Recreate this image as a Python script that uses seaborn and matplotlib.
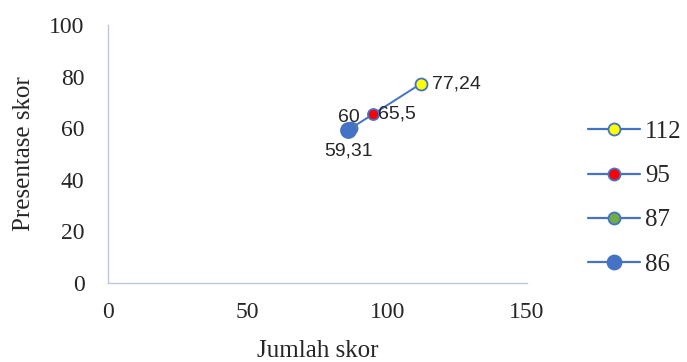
import pandas as pd
import seaborn as sns
import matplotlib.pyplot as plt
from matplotlib.lines import Line2D

# Data
jumlah_skor = [112, 95, 87, 86]
presentase_skor = [77.24, 65.5, 60, 59.31]
point_labels = ["77,24", "65,5", "60", "59,31"]
series_names = ["112", "95", "87", "86"]
face_colors = ["#FFFF00", "#FF0000", "#70AD47", "#4472C4"]

line_blue = "#4472C4"
serif = "Liberation Serif"
px = 0.72  # points per pixel at dpi 100

df = pd.DataFrame({"x": jumlah_skor, "y": presentase_skor, "name": series_names})

sns.set_style("white")
fig = plt.figure(figsize=(6.87, 3.62), dpi=100)
ax = fig.add_axes([108 / 687, 79 / 362, 419 / 687, 258 / 362])

sns.lineplot(data=df, x="x", y="y", sort=False, color=line_blue, linewidth=1.4, ax=ax)
sizes = [(12 * px) ** 2, (11 * px) ** 2, (12 * px) ** 2, (15 * px) ** 2]
for (_, row), fc, s in zip(df.iterrows(), face_colors, sizes):
    ax.scatter(row["x"], row["y"], s=s, color=fc, edgecolor=line_blue,
               linewidth=1.3, zorder=3)

# data labels, offsets in pixels
offsets = [(11, 0, "left", "center"), (5, 0, "left", "center"),
           (9, 11, "right", "center"), (0, -13, "center", "top")]
for x, y, lab, (dx, dy, ha, va) in zip(jumlah_skor, presentase_skor, point_labels, offsets):
    ax.annotate(lab, (x, y), xytext=(dx * px, dy * px), textcoords="offset points",
                ha=ha, va=va, fontsize=14, family="Liberation Sans", zorder=4)

ax.set_xlim(0, 150)
ax.set_ylim(0, 100)
ax.set_xticks([0, 50, 100, 150])
ax.set_yticks([0, 20, 40, 60, 80, 100])
for lab in ax.get_xticklabels() + ax.get_yticklabels():
    lab.set_family(serif)
    lab.set_fontsize(17)
ax.tick_params(axis="y", length=0, pad=17)
ax.tick_params(axis="x", length=0, pad=14)

for side in ["top", "right"]:
    ax.spines[side].set_visible(False)
for side in ["left", "bottom"]:
    ax.spines[side].set_color("#BCC8DE")
    ax.spines[side].set_linewidth(1.0)

ax.set_xlabel("Jumlah skor", family=serif, fontsize=18, labelpad=12)
ax.set_ylabel("Presentase skor", family=serif, fontsize=18, labelpad=10)

handles = [Line2D([0], [0], color=line_blue, linewidth=1.6, marker="o",
                  markerfacecolor=fc, markeredgecolor=line_blue, markeredgewidth=1.3,
                  markersize=(12 if i < 3 else 14) * px)
           for i, fc in enumerate(face_colors)]
fig.legend(handles, series_names, loc="upper left", bbox_to_anchor=(575 / 687, 1 - 108 / 362),
           frameon=False, prop={"family": serif, "size": 18},
           handlelength=2.1, handletextpad=0.2, labelspacing=0.87, borderpad=0)

fig.savefig("out.png", dpi=100)
